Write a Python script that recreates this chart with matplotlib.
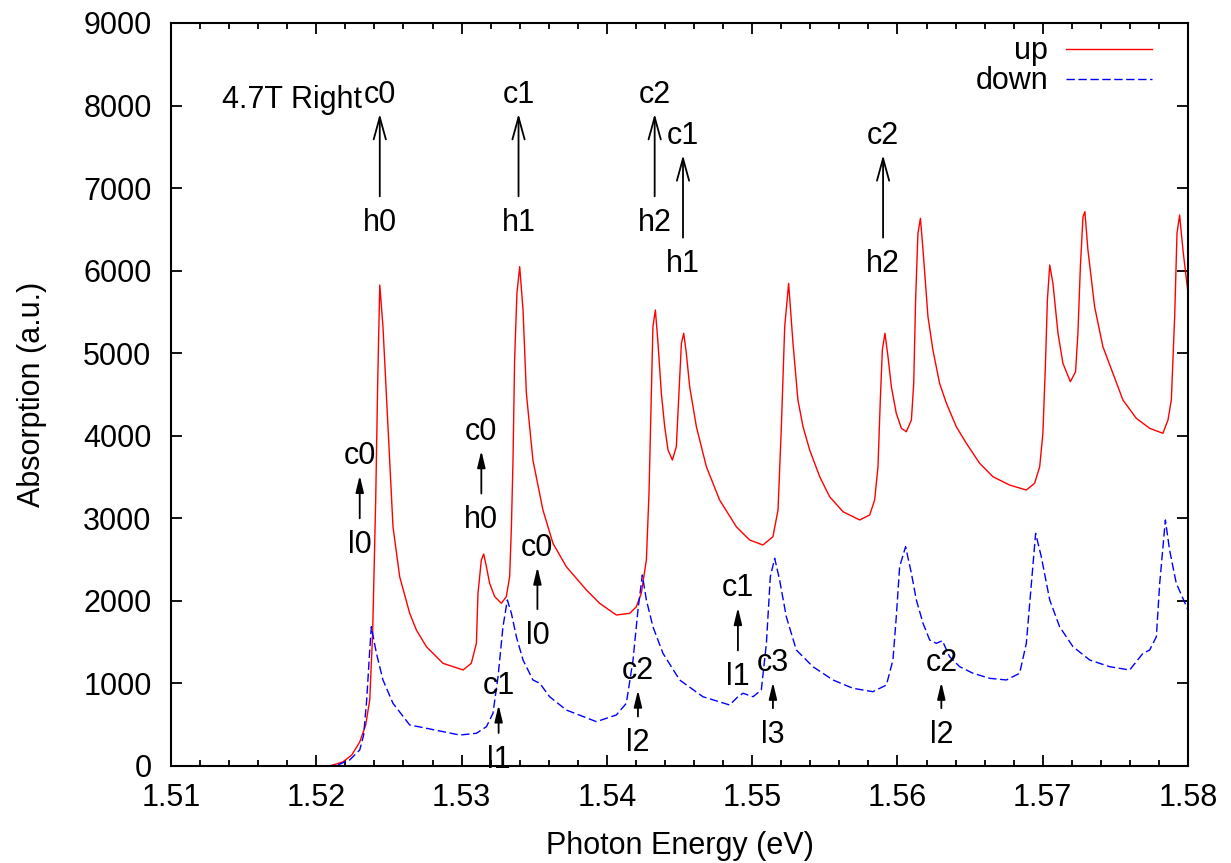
import matplotlib
matplotlib.use("Agg")
import matplotlib.pyplot as plt
from matplotlib.ticker import MultipleLocator, FormatStrFormatter

plt.rcParams["font.family"] = ["Liberation Sans", "DejaVu Sans"]

# spin-up absorption spectrum
up_energy = [
    1.51000, 1.52092, 1.52182, 1.52244, 1.52299, 1.52340, 1.52368, 1.52388, 1.52409, 1.52423,
    1.52437, 1.52459, 1.52482, 1.52505, 1.52528, 1.52574, 1.52643, 1.52689, 1.52758, 1.52872,
    1.53010, 1.53067, 1.53102, 1.53113, 1.53136, 1.53152, 1.53171, 1.53193, 1.53228, 1.53274,
    1.53308, 1.53331, 1.53343, 1.53354, 1.53365, 1.53381, 1.53400, 1.53423, 1.53446, 1.53491,
    1.53560, 1.53629, 1.53721, 1.53859, 1.53950, 1.54065, 1.54157, 1.54203, 1.54237, 1.54272,
    1.54290, 1.54306, 1.54317, 1.54334, 1.54352, 1.54375, 1.54398, 1.54421, 1.54451, 1.54478,
    1.54496, 1.54513, 1.54529, 1.54547, 1.54570, 1.54616, 1.54685, 1.54776, 1.54891, 1.54983,
    1.55074, 1.55143, 1.55178, 1.55201, 1.55224, 1.55251, 1.55281, 1.55315, 1.55350, 1.55396,
    1.55465, 1.55533, 1.55625, 1.55740, 1.55809, 1.55843, 1.55866, 1.55882, 1.55896, 1.55914,
    1.55935, 1.55958, 1.55992, 1.56027, 1.56061, 1.56096, 1.56112, 1.56125, 1.56141, 1.56158,
    1.56176, 1.56210, 1.56244, 1.56290, 1.56337, 1.56405, 1.56474, 1.56566, 1.56657, 1.56772,
    1.56887, 1.56944, 1.56979, 1.57001, 1.57018, 1.57032, 1.57048, 1.57070, 1.57105, 1.57139,
    1.57190, 1.57226, 1.57242, 1.57259, 1.57277, 1.57290, 1.57311, 1.57357, 1.57414, 1.57483,
    1.57552, 1.57644, 1.57736, 1.57827, 1.57862, 1.57885, 1.57908, 1.57924, 1.57942, 1.57965,
    1.58000,
]
up_abs = [
    0, 0, 48, 133, 290, 497, 800, 1611, 3222, 4675,
    5826, 5321, 4514, 3706, 2898, 2293, 1849, 1647, 1445, 1244,
    1163, 1244, 1486, 2092, 2495, 2568, 2414, 2213, 2051, 1971,
    2051, 2293, 2898, 3706, 4917, 5725, 6048, 5523, 4514, 3706,
    3101, 2697, 2414, 2132, 1971, 1829, 1849, 1929, 2092, 2495,
    3303, 4514, 5321, 5523, 5120, 4514, 4110, 3827, 3706, 3867,
    4514, 5120, 5241, 4999, 4594, 4110, 3625, 3222, 2898, 2737,
    2677, 2777, 3101, 4110, 5321, 5846, 5120, 4433, 4110, 3827,
    3504, 3262, 3080, 2980, 3040, 3222, 3625, 4433, 5039, 5241,
    4957, 4594, 4272, 4090, 4049, 4191, 4635, 5644, 6452, 6634,
    6250, 5442, 5039, 4635, 4393, 4110, 3909, 3666, 3504, 3403,
    3343, 3424, 3625, 4030, 4836, 5644, 6068, 5846, 5241, 4877,
    4655, 4776, 5241, 6048, 6653, 6714, 6250, 5563, 5079, 4756,
    4433, 4211, 4090, 4030, 4191, 4433, 5442, 6452, 6674, 6250,
    5725,
]

# spin-down absorption spectrum
down_energy = [
    1.51000, 1.52092, 1.52147, 1.52230, 1.52299, 1.52326, 1.52347, 1.52368, 1.52379, 1.52414,
    1.52459, 1.52528, 1.52643, 1.52758, 1.52987, 1.53102, 1.53171, 1.53216, 1.53251, 1.53285,
    1.53315, 1.53343, 1.53377, 1.53423, 1.53491, 1.53538, 1.53606, 1.53721, 1.53928, 1.54065,
    1.54134, 1.54180, 1.54214, 1.54244, 1.54272, 1.54317, 1.54386, 1.54501, 1.54661, 1.54845,
    1.54902, 1.54937, 1.55006, 1.55063, 1.55098, 1.55125, 1.55155, 1.55189, 1.55235, 1.55304,
    1.55418, 1.55556, 1.55694, 1.55831, 1.55924, 1.55969, 1.55992, 1.56015, 1.56056, 1.56096,
    1.56130, 1.56176, 1.56222, 1.56268, 1.56309, 1.56359, 1.56428, 1.56520, 1.56635, 1.56750,
    1.56841, 1.56887, 1.56922, 1.56951, 1.56990, 1.57048, 1.57116, 1.57208, 1.57323, 1.57460,
    1.57598, 1.57690, 1.57736, 1.57782, 1.57805, 1.57844, 1.57873, 1.57919, 1.58000,
]
down_abs = [
    0, 0, 12, 73, 194, 375, 799, 1405, 1687, 1365,
    1042, 759, 497, 457, 375, 396, 476, 638, 1082, 1687,
    2011, 1849, 1566, 1284, 1042, 1002, 839, 678, 537, 618,
    759, 1284, 1889, 2313, 2011, 1687, 1365, 1042, 839, 739,
    839, 881, 839, 921, 1486, 2293, 2516, 2253, 1808, 1405,
    1203, 1042, 941, 900, 981, 1284, 1808, 2414, 2656, 2334,
    2011, 1728, 1526, 1486, 1518, 1324, 1203, 1123, 1062, 1042,
    1123, 1486, 2213, 2818, 2535, 2011, 1687, 1445, 1284, 1203,
    1163, 1365, 1405, 1566, 2213, 2980, 2616, 2213, 1889,
]

# transition markers: energy, arrow start, arrow end, lower label, upper label
big_x = [1.52437, 1.53392, 1.54329, 1.54524, 1.55901]
big_from = [6900, 6900, 6900, 6400, 6400]
big_to = [7900, 7900, 7900, 7400, 7400]
big_low = ["h0", "h1", "h2", "h1", "h2"]
big_high = ["c0", "c1", "c2", "c1", "c2"]

small_x = [1.52299, 1.53136, 1.53522, 1.53255, 1.54214, 1.54902, 1.55143, 1.56302]
small_from = [3000, 3300, 1900, 400, 600, 1400, 700, 700]
small_to = [3520, 3820, 2410, 740, 920, 1920, 1015, 1015]
small_low = ["l0", "h0", "l0", "l1", "l2", "l1", "l3", "l2"]
small_high = ["c0", "c0", "c0", "c1", "c2", "c1", "c3", "c2"]

FS = 22

fig = plt.figure(figsize=(12.31, 8.63), dpi=100)
ax = fig.add_axes([0.1389, 0.1124, 0.8262, 0.8610])

ax.plot(up_energy, up_abs, color="#ff0000", lw=1.0, label="up")
ax.plot(down_energy, down_abs, color="#0000ff", lw=1.0, dashes=(6, 2.6), label="down")


def mark(x, y0, y1, low, high, style):
    ax.annotate("", xy=(x, y1), xytext=(x, y0),
                arrowprops=dict(arrowstyle=style, color="black", lw=1.3,
                                shrinkA=0, shrinkB=0, mutation_scale=20))
    ax.annotate(high, xy=(x, y1), xytext=(0, 8), textcoords="offset points",
                ha="center", va="baseline", fontsize=FS)
    ax.annotate(low, xy=(x, y0), xytext=(0, -25), textcoords="offset points",
                ha="center", va="baseline", fontsize=FS)


for i in range(len(big_x)):
    mark(big_x[i], big_from[i], big_to[i], big_low[i], big_high[i],
         "->,head_length=0.8,head_width=0.22")
for i in range(len(small_x)):
    mark(small_x[i], small_from[i], small_to[i], small_low[i], small_high[i],
         "-|>,head_length=0.5,head_width=0.12")

ax.text(1.51349, 7966, "4.7T Right", ha="left", va="baseline", fontsize=FS)

ax.set_xlim(1.51, 1.58)
ax.set_ylim(0, 9000)
ax.xaxis.set_major_locator(MultipleLocator(0.01))
ax.xaxis.set_minor_locator(MultipleLocator(0.002))
ax.xaxis.set_major_formatter(FormatStrFormatter("%.2f"))
ax.yaxis.set_major_locator(MultipleLocator(1000))
ax.tick_params(which="both", direction="in", top=True, right=True, labelsize=FS, width=1.3)
ax.tick_params(which="major", length=8, pad=12)
ax.tick_params(which="minor", length=4)
ax.tick_params(axis="y", pad=14)
for s in ax.spines.values():
    s.set_linewidth(1.5)

ax.set_xlabel("Photon Energy (eV)", fontsize=FS, labelpad=13)
ax.set_ylabel("Absorption (a.u.)", fontsize=FS, labelpad=26)

ax.legend(loc="upper right", bbox_to_anchor=(0.9646, 0.982), frameon=False, markerfirst=False,
          fontsize=FS, handlelength=2.8, handletextpad=0.6, labelspacing=0.0, borderpad=0,
          borderaxespad=0)

fig.savefig("out.png", dpi=100)
